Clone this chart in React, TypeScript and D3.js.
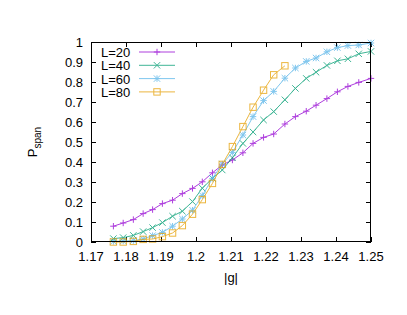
import React, { useEffect, useRef } from "react";
import * as d3 from "d3";

// |g| values (shared by all system sizes)
const gValues = [
  1.1764, 1.1792, 1.1821, 1.1849, 1.1876, 1.1904, 1.1933, 1.1961, 1.199,
  1.2018, 1.2047, 1.2075, 1.2104, 1.2134, 1.2163, 1.2193, 1.2222, 1.2254,
  1.2284, 1.2315, 1.2343, 1.2374, 1.2404, 1.2434, 1.2465, 1.25,
];

const pL20 = [
  0.079, 0.095, 0.112, 0.142, 0.162, 0.192, 0.209, 0.242, 0.268, 0.301,
  0.346, 0.385, 0.41, 0.446, 0.493, 0.523, 0.54, 0.59, 0.627, 0.654, 0.684,
  0.717, 0.751, 0.778, 0.798, 0.818,
];
const pL40 = [
  0.017, 0.022, 0.033, 0.052, 0.072, 0.097, 0.129, 0.154, 0.202, 0.269,
  0.318, 0.36, 0.421, 0.493, 0.55, 0.61, 0.652, 0.711, 0.768, 0.818, 0.849,
  0.883, 0.906, 0.916, 0.941, 0.953,
];
const pL60 = [
  0.003, 0.005, 0.007, 0.015, 0.032, 0.048, 0.079, 0.115, 0.159, 0.232,
  0.318, 0.39, 0.448, 0.535, 0.627, 0.707, 0.753, 0.819, 0.87, 0.903, 0.92,
  0.951, 0.972, 0.982, 0.985, 0.995,
];
const pL80 = [
  0.0, 0.0, 0.003, 0.013, 0.015, 0.027, 0.045, 0.082, 0.139, 0.212, 0.293,
  0.388, 0.477, 0.577, 0.674, 0.759, 0.836, 0.881,
];

const seriesNames = ["L=20", "L=40", "L=60", "L=80"];
const xTicks = [1.17, 1.18, 1.19, 1.2, 1.21, 1.22, 1.23, 1.24, 1.25];
const yTicks = [0, 0.1, 0.2, 0.3, 0.4, 0.5, 0.6, 0.7, 0.8, 0.9, 1];

const colors = ["#9400d3", "#009e73", "#56b4e9", "#e69f00"];
const symbols = ["plus", "cross", "star", "square"];

const App = () => {
  const ref = useRef<SVGSVGElement>(null);

  useEffect(() => {
    drawChart();
  }, []);

  function drawMarker(g: any, kind: string, x: number, y: number, color: string) {
    const s = 3.2;
    const sw = 1;
    if (kind === "plus" || kind === "star") {
      g.append("path")
        .attr("d", `M${x - s},${y}H${x + s}M${x},${y - s}V${y + s}`)
        .attr("stroke", color)
        .attr("stroke-width", sw)
        .attr("fill", "none");
    }
    if (kind === "cross" || kind === "star") {
      g.append("path")
        .attr("d", `M${x - s},${y - s}L${x + s},${y + s}M${x - s},${y + s}L${x + s},${y - s}`)
        .attr("stroke", color)
        .attr("stroke-width", sw)
        .attr("fill", "none");
    }
    if (kind === "square") {
      g.append("rect")
        .attr("x", x - s)
        .attr("y", y - s)
        .attr("width", 2 * s)
        .attr("height", 2 * s)
        .attr("stroke", color)
        .attr("stroke-width", sw)
        .attr("fill", "none");
    }
  }

  function drawChart() {
    const width = 407;
    const height = 315;
    const margin = { top: 42, right: 36, bottom: 73, left: 91 };
    const w = width - margin.left - margin.right;
    const h = height - margin.top - margin.bottom;

    const svg = d3.select(ref.current);
    svg.selectAll("*").remove();

    const xScale = d3.scaleLinear().domain([1.17, 1.25]).range([margin.left, margin.left + w]);
    const yScale = d3.scaleLinear().domain([0, 1]).range([margin.top + h, margin.top]);

    const font = "Liberation Sans, Arial, sans-serif";
    const tl = 5;

    // ticks (inward, mirrored)
    const ticks = svg.append("g").attr("stroke", "#000").attr("stroke-width", 1);
    xTicks.forEach((t) => {
      const x = Math.round(xScale(t)) + 0.5;
      ticks.append("line").attr("x1", x).attr("x2", x).attr("y1", margin.top + h).attr("y2", margin.top + h - tl);
      ticks.append("line").attr("x1", x).attr("x2", x).attr("y1", margin.top).attr("y2", margin.top + tl);
    });
    yTicks.forEach((t) => {
      const y = Math.round(yScale(t)) + 0.5;
      ticks.append("line").attr("x1", margin.left).attr("x2", margin.left + tl).attr("y1", y).attr("y2", y);
      ticks.append("line").attr("x1", margin.left + w).attr("x2", margin.left + w - tl).attr("y1", y).attr("y2", y);
    });

    // tick labels
    svg.append("g")
      .selectAll("text")
      .data(xTicks)
      .enter()
      .append("text")
      .attr("x", (d) => xScale(d))
      .attr("y", margin.top + h + 19)
      .attr("text-anchor", "middle")
      .attr("font-family", font)
      .attr("font-size", 13)
      .text((d) => String(d));

    svg.append("g")
      .selectAll("text")
      .data(yTicks)
      .enter()
      .append("text")
      .attr("x", margin.left - 8)
      .attr("y", (d) => yScale(d) + 4.5)
      .attr("text-anchor", "end")
      .attr("font-family", font)
      .attr("font-size", 13)
      .text((d) => String(d));

    // axis titles
    svg.append("text")
      .attr("x", xScale(1.21))
      .attr("y", margin.top + h + 40)
      .attr("text-anchor", "middle")
      .attr("font-family", font)
      .attr("font-size", 13)
      .text("|g|");

    const yl = svg.append("text")
      .attr("transform", `translate(37,${margin.top + h / 2}) rotate(-90)`)
      .attr("text-anchor", "middle")
      .attr("font-family", font)
      .attr("font-size", 13);
    yl.append("tspan").text("P");
    yl.append("tspan").attr("font-size", 10).attr("dy", 4).text("span");

    // series
    const allSeries = [pL20, pL40, pL60, pL80];
    allSeries.forEach((vals, i) => {
      const pts = vals.map((v, j) => [gValues[j], v] as [number, number]);
      const line = d3
        .line<[number, number]>()
        .x((d) => xScale(d[0]))
        .y((d) => yScale(d[1]));
      const g = svg.append("g").attr("opacity", 0.75);
      g.append("path")
        .datum(pts)
        .attr("fill", "none")
        .attr("stroke", colors[i])
        .attr("stroke-width", 1)
        .attr("d", line);
      pts.forEach((p) => drawMarker(g, symbols[i], xScale(p[0]), yScale(p[1]), colors[i]));
    });

    // legend
    seriesNames.forEach((name, i) => {
      const y = 52 + i * 13.3;
      svg.append("text")
        .attr("x", 101)
        .attr("y", y + 5)
        .attr("font-family", font)
        .attr("font-size", 13)
        .text(name);
      const g = svg.append("g").attr("opacity", 0.75);
      g.append("line")
        .attr("x1", 139)
        .attr("x2", 175)
        .attr("y1", y)
        .attr("y2", y)
        .attr("stroke", colors[i])
        .attr("stroke-width", 1);
      drawMarker(g, symbols[i], 157, y, colors[i]);
    });

    // border
    svg.append("rect")
      .attr("x", margin.left + 0.5)
      .attr("y", margin.top + 0.5)
      .attr("width", w - 1)
      .attr("height", h - 1)
      .attr("fill", "none")
      .attr("stroke", "#000")
      .attr("stroke-width", 1);
  }

  return (
    <svg
      ref={ref}
      width={407}
      height={315}
      style={{ position: "absolute", left: 0, top: 0, background: "#fff" }}
    />
  );
};

export default App;
